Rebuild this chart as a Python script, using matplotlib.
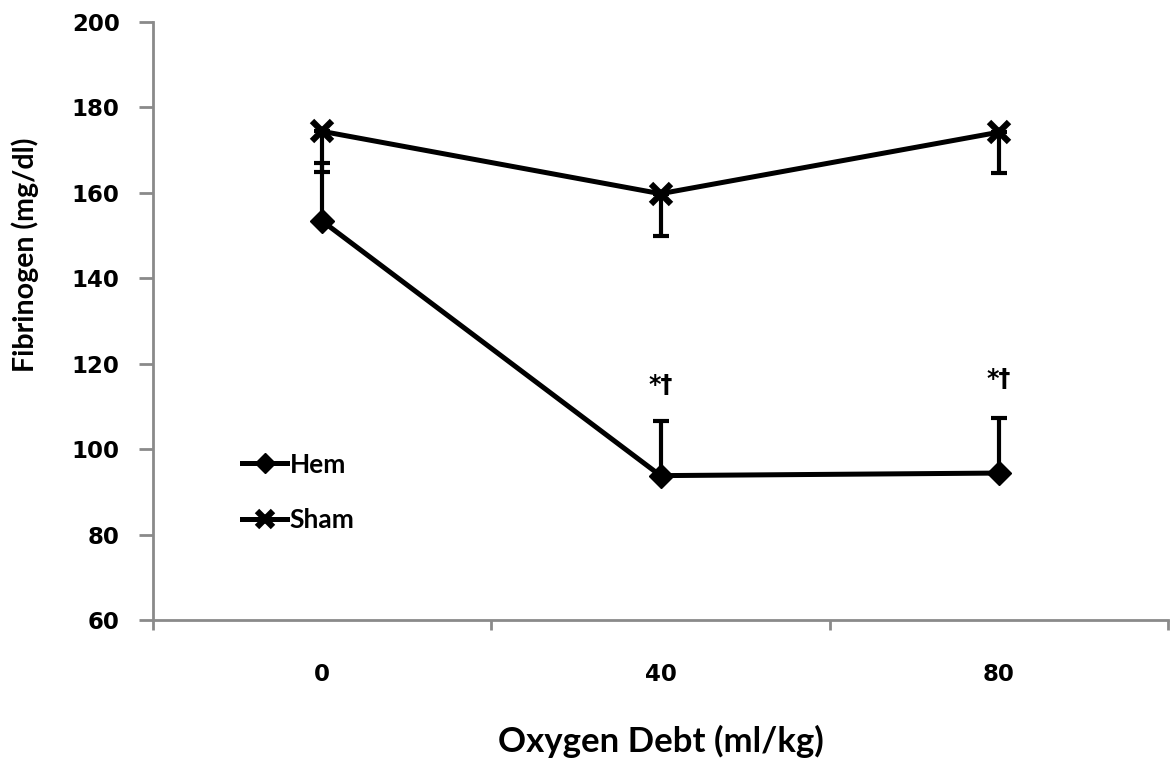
import matplotlib

matplotlib.use("Agg")
import matplotlib.pyplot as plt
from matplotlib.ticker import FixedLocator

# data
debt_labels = ["0", "40", "80"]
hem_mean = [153.4, 93.8, 94.4]
hem_err_up = [13.6, 12.8, 13.0]
sham_mean = [174.4, 159.8, 174.2]
sham_err_down = [9.5, 9.8, 9.6]
sig_marks = ["", "*\u2020", "*\u2020"]
sig_y = [None, 115.0, 116.5]

plt.rcParams["font.family"] = ["Lato", "DejaVu Sans"]
plt.rcParams["font.weight"] = "bold"
TICK_FONT = {"family": "DejaVu Sans", "weight": "bold", "size": 16.5}

fig = plt.figure(figsize=(11.71, 7.64), dpi=100)
ax = fig.add_axes([153 / 1171, 1 - 620 / 764, 1015 / 1171, 598 / 764])

x = list(range(len(debt_labels)))
zeros = [0] * len(x)

ax.errorbar(x, hem_mean, yerr=[zeros, hem_err_up], fmt="none", ecolor="black",
            elinewidth=3, capsize=6, capthick=3, zorder=2)
ax.errorbar(x, sham_mean, yerr=[sham_err_down, zeros], fmt="none", ecolor="black",
            elinewidth=3, capsize=6, capthick=3, zorder=2)

ax.plot(x, hem_mean, color="black", linewidth=3.6, marker="D", markersize=12.5,
        markeredgewidth=1, label="Hem", zorder=3)
ax.plot(x, sham_mean, color="black", linewidth=3.6, marker="x", markersize=14,
        markeredgewidth=4.5, label="Sham", zorder=3)

for xi, txt, yy in zip(x, sig_marks, sig_y):
    if txt:
        ax.text(xi, yy, txt, ha="center", va="center", family="DejaVu Sans",
                fontsize=17, fontweight="bold")

ax.set_xlim(-0.5, 2.5)
ax.set_ylim(60, 200)
ax.set_yticks(range(60, 201, 20))
ax.set_xticks(x)
ax.set_xticklabels(debt_labels)
ax.xaxis.set_minor_locator(FixedLocator([-0.5, 0.5, 1.5, 2.5]))

for side in ("top", "right"):
    ax.spines[side].set_visible(False)
for side in ("left", "bottom"):
    ax.spines[side].set_color("#8a8a8a")
    ax.spines[side].set_linewidth(2)

ax.tick_params(axis="y", which="major", length=10, width=2, color="#8a8a8a", pad=14)
ax.tick_params(axis="x", which="major", length=0, pad=31)
ax.tick_params(axis="x", which="minor", length=7, width=2, color="#8a8a8a")
for lab in ax.get_xticklabels() + ax.get_yticklabels():
    lab.set_fontproperties(TICK_FONT)

ax.set_xlabel("Oxygen Debt (ml/kg)", fontsize=25, fontweight="bold", labelpad=28)
fig.text(25 / 1171, 1 - 255 / 764, "Fibrinogen (mg/dl)", rotation=90, ha="center",
         va="center", fontsize=20.5, fontweight="bold")

ax.legend(loc="upper left", bbox_to_anchor=(0.088, 0.28), frameon=False,
          handlelength=1.7, handletextpad=0.1, labelspacing=1.2, borderpad=0,
          borderaxespad=0, prop={"size": 19, "weight": "bold"}, markerscale=0.8)

fig.savefig("out.png", dpi=100)
